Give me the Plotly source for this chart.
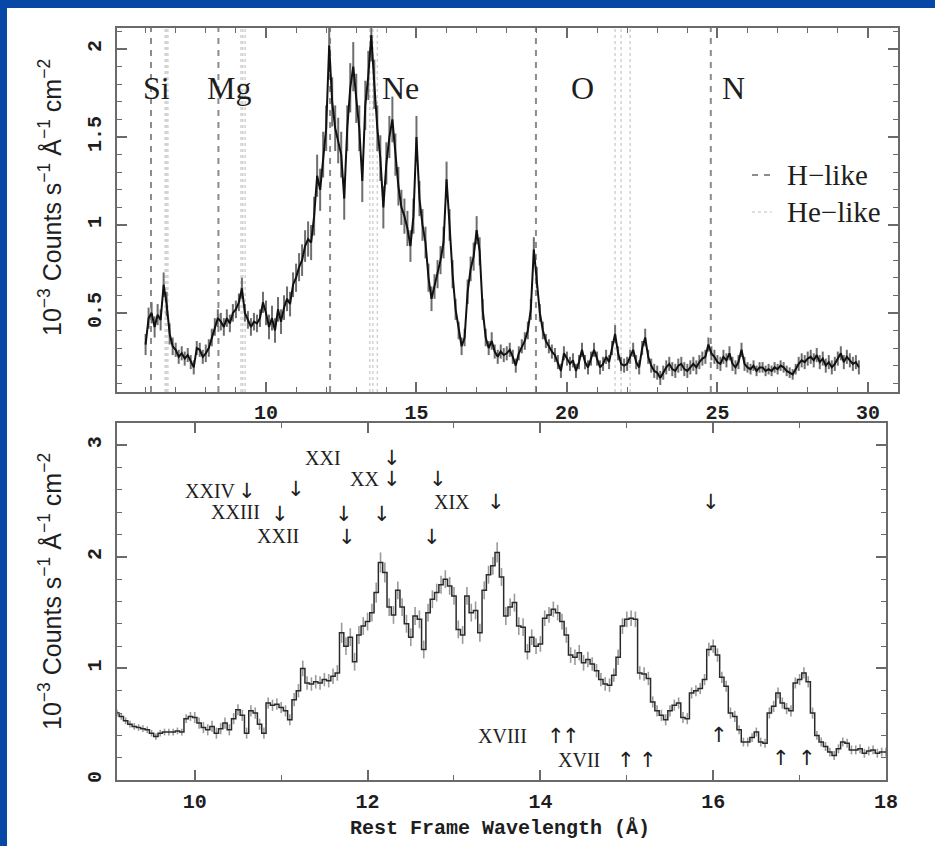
import numpy as np
import plotly.graph_objects as go

# ---------------- data: top panel (full band) ----------------
top_start, top_step = 6.0, 0.1
flux_top = [
    0.32, 0.47, 0.50, 0.42, 0.49, 0.46, 0.66, 0.55, 0.38, 0.31,   # 6.x
    0.29, 0.25, 0.27, 0.24, 0.26, 0.22, 0.19, 0.30, 0.29, 0.25,   # 7.x
    0.27, 0.30, 0.36, 0.42, 0.47, 0.45, 0.42, 0.47, 0.44, 0.50,   # 8.x
    0.52, 0.56, 0.64, 0.50, 0.46, 0.42, 0.45, 0.44, 0.47, 0.56,   # 9.x
    0.50, 0.42, 0.47, 0.40, 0.52, 0.45, 0.53, 0.58, 0.55, 0.66,   # 10.x
    0.70, 0.76, 0.80, 0.88, 0.92, 0.90, 1.05, 1.28, 1.20, 1.40,   # 11.x
    1.55, 2.02, 1.70, 1.55, 1.48, 1.40, 1.15, 1.55, 1.78, 1.90,   # 12.x
    1.72, 1.55, 1.25, 1.68, 1.85, 2.08, 1.80, 1.55, 1.38, 1.10,   # 13.x
    1.35, 1.50, 1.60, 1.40, 1.22, 1.10, 1.05, 0.98, 0.88, 1.05,   # 14.x
    1.50, 1.15, 1.00, 0.90, 0.70, 0.58, 0.65, 0.72, 0.80, 0.90,   # 15.x
    1.26, 1.00, 0.72, 0.52, 0.40, 0.31, 0.36, 0.62, 0.75, 0.82,   # 16.x
    0.97, 0.85, 0.52, 0.36, 0.30, 0.34, 0.28, 0.25, 0.28, 0.26,   # 17.x
    0.27, 0.29, 0.25, 0.20, 0.27, 0.31, 0.34, 0.40, 0.52, 0.86,   # 18.x
    0.70, 0.50, 0.40, 0.34, 0.31, 0.28, 0.26, 0.22, 0.17, 0.27,   # 19.x
    0.24, 0.21, 0.23, 0.17, 0.22, 0.29, 0.22, 0.19, 0.24, 0.29,   # 20.x
    0.24, 0.19, 0.21, 0.25, 0.22, 0.30, 0.38, 0.27, 0.21, 0.20,   # 21.x
    0.21, 0.25, 0.29, 0.22, 0.19, 0.30, 0.36, 0.25, 0.20, 0.17,   # 22.x
    0.16, 0.13, 0.16, 0.19, 0.21, 0.18, 0.17, 0.20, 0.21, 0.18,   # 23.x
    0.17, 0.19, 0.21, 0.19, 0.22, 0.24, 0.25, 0.32, 0.27, 0.25,   # 24.x
    0.22, 0.21, 0.25, 0.23, 0.27, 0.21, 0.19, 0.22, 0.29, 0.21,   # 25.x
    0.19, 0.18, 0.20, 0.17, 0.19, 0.19, 0.17, 0.18, 0.17, 0.19,   # 26.x
    0.18, 0.20, 0.19, 0.17, 0.16, 0.15, 0.18, 0.21, 0.23, 0.22,   # 27.x
    0.24, 0.25, 0.23, 0.26, 0.22, 0.24, 0.20, 0.22, 0.19, 0.21,   # 28.x
    0.24, 0.27, 0.22, 0.25, 0.23, 0.21, 0.22, 0.19,               # 29.x
]
err_top = [
    0.06, 0.06, 0.06, 0.06, 0.06, 0.06, 0.07, 0.07, 0.06, 0.05,
    0.04, 0.04, 0.04, 0.04, 0.04, 0.04, 0.04, 0.04, 0.04, 0.04,
    0.05, 0.05, 0.05, 0.05, 0.05, 0.05, 0.05, 0.05, 0.05, 0.05,
    0.05, 0.05, 0.06, 0.05, 0.05, 0.05, 0.05, 0.05, 0.05, 0.06,
    0.07, 0.07, 0.07, 0.07, 0.07, 0.07, 0.07, 0.07, 0.07, 0.07,
    0.08, 0.08, 0.09, 0.09, 0.10, 0.10, 0.11, 0.12, 0.12, 0.13,
    0.13, 0.15, 0.14, 0.13, 0.13, 0.13, 0.12, 0.13, 0.14, 0.14,
    0.14, 0.13, 0.12, 0.14, 0.14, 0.15, 0.14, 0.13, 0.13, 0.12,
    0.12, 0.12, 0.13, 0.12, 0.11, 0.10, 0.10, 0.10, 0.09, 0.10,
    0.12, 0.10, 0.09, 0.09, 0.08, 0.07, 0.07, 0.08, 0.08, 0.09,
    0.10, 0.09, 0.08, 0.06, 0.05, 0.05, 0.05, 0.07, 0.07, 0.08,
    0.08, 0.08, 0.06, 0.05, 0.04, 0.05, 0.04, 0.04, 0.04, 0.04,
    0.04, 0.04, 0.04, 0.04, 0.04, 0.04, 0.05, 0.05, 0.06, 0.07,
    0.06, 0.05, 0.05, 0.04, 0.04, 0.04, 0.04, 0.04, 0.04, 0.04,
    0.04, 0.04, 0.04, 0.04, 0.04, 0.04, 0.04, 0.04, 0.04, 0.04,
    0.04, 0.04, 0.04, 0.04, 0.04, 0.04, 0.05, 0.04, 0.04, 0.04,
    0.04, 0.04, 0.04, 0.04, 0.04, 0.04, 0.05, 0.04, 0.04, 0.04,
    0.04, 0.04, 0.04, 0.04, 0.04, 0.04, 0.04, 0.04, 0.04, 0.04,
    0.04, 0.04, 0.04, 0.04, 0.04, 0.04, 0.04, 0.04, 0.04, 0.04,
    0.04, 0.04, 0.04, 0.04, 0.04, 0.04, 0.04, 0.04, 0.04, 0.04,
    0.03, 0.03, 0.03, 0.03, 0.03, 0.03, 0.03, 0.03, 0.03, 0.03,
    0.03, 0.03, 0.03, 0.03, 0.03, 0.03, 0.03, 0.04, 0.04, 0.04,
    0.04, 0.04, 0.04, 0.04, 0.04, 0.04, 0.04, 0.04, 0.04, 0.04,
    0.04, 0.04, 0.04, 0.04, 0.04, 0.04, 0.04, 0.04,
]

# ---------------- data: bottom panel (zoom 9-18 A) ----------------
bot_start, bot_step = 9.10, 0.05
flux_bot = [
    0.60, 0.57, 0.53, 0.50, 0.48, 0.47, 0.46, 0.45, 0.42, 0.39,
    0.42, 0.43, 0.43, 0.43, 0.44, 0.43, 0.55, 0.57,                      # 9.10-9.95
    0.56, 0.51, 0.47, 0.45, 0.48, 0.42, 0.46, 0.51, 0.45, 0.55,
    0.63, 0.58, 0.42, 0.62, 0.60, 0.50, 0.42, 0.69, 0.67, 0.68,          # 10.x
    0.65, 0.62, 0.54, 0.72, 0.80, 1.00, 0.87, 0.86, 0.88, 0.87,
    0.90, 0.89, 0.93, 0.96, 1.32, 1.20, 1.28, 1.06, 1.30, 1.38,          # 11.x
    1.42, 1.50, 1.68, 1.95, 1.86, 1.55, 1.48, 1.70, 1.55, 1.40,
    1.28, 1.47, 1.44, 1.17, 1.50, 1.62, 1.68, 1.75, 1.80, 1.74,          # 12.x
    1.65, 1.35, 1.30, 1.65, 1.50, 1.52, 1.32, 1.70, 1.84, 1.92,
    2.04, 1.82, 1.47, 1.55, 1.59, 1.38, 1.37, 1.15, 1.28, 1.20,          # 13.x
    1.22, 1.45, 1.48, 1.53, 1.50, 1.42, 1.30, 1.12, 1.10, 1.14,
    1.05, 1.08, 1.04, 0.98, 0.90, 0.86, 0.85, 0.94, 1.10, 1.38,          # 14.x
    1.44, 1.45, 1.44, 0.96, 0.95, 0.91, 0.70, 0.62, 0.58, 0.54,
    0.62, 0.67, 0.69, 0.56, 0.55, 0.78, 0.80, 0.82, 0.90, 1.17,          # 15.x
    1.20, 1.12, 0.92, 0.84, 0.60, 0.57, 0.45, 0.34, 0.34, 0.38,
    0.43, 0.34, 0.33, 0.60, 0.66, 0.78, 0.69, 0.64, 0.62, 0.87,          # 16.x
    0.90, 0.96, 0.88, 0.60, 0.40, 0.34, 0.30, 0.25, 0.22, 0.28,
    0.34, 0.33, 0.27, 0.27, 0.28, 0.24, 0.26, 0.27, 0.24, 0.25,          # 17.x
    0.25,                                                                # 18.00
]
err_bot = [
    0.03, 0.03, 0.03, 0.03, 0.03, 0.03, 0.03, 0.03, 0.03, 0.03,
    0.03, 0.03, 0.03, 0.03, 0.03, 0.03, 0.04, 0.04,
    0.05, 0.05, 0.05, 0.05, 0.05, 0.05, 0.05, 0.05, 0.05, 0.05,
    0.05, 0.05, 0.05, 0.05, 0.05, 0.05, 0.05, 0.05, 0.05, 0.05,
    0.05, 0.05, 0.05, 0.06, 0.06, 0.07, 0.06, 0.06, 0.06, 0.06,
    0.06, 0.06, 0.07, 0.07, 0.09, 0.08, 0.08, 0.08, 0.08, 0.08,
    0.08, 0.08, 0.09, 0.09, 0.09, 0.08, 0.08, 0.08, 0.08, 0.08,
    0.08, 0.08, 0.08, 0.08, 0.08, 0.08, 0.08, 0.08, 0.08, 0.08,
    0.08, 0.08, 0.08, 0.08, 0.08, 0.08, 0.08, 0.08, 0.08, 0.08,
    0.09, 0.08, 0.08, 0.08, 0.08, 0.08, 0.08, 0.07, 0.07, 0.07,
    0.07, 0.07, 0.07, 0.07, 0.07, 0.07, 0.07, 0.07, 0.07, 0.07,
    0.07, 0.07, 0.06, 0.06, 0.06, 0.06, 0.06, 0.06, 0.07, 0.07,
    0.07, 0.07, 0.07, 0.06, 0.06, 0.06, 0.05, 0.05, 0.05, 0.05,
    0.05, 0.05, 0.05, 0.05, 0.05, 0.05, 0.05, 0.05, 0.05, 0.06,
    0.06, 0.06, 0.05, 0.05, 0.05, 0.05, 0.04, 0.04, 0.04, 0.04,
    0.04, 0.04, 0.04, 0.05, 0.05, 0.05, 0.05, 0.05, 0.05, 0.05,
    0.05, 0.05, 0.05, 0.05, 0.04, 0.04, 0.04, 0.04, 0.04, 0.04,
    0.04, 0.04, 0.04, 0.04, 0.04, 0.04, 0.04, 0.04, 0.04, 0.04,
    0.04,
]
assert len(err_top) == len(flux_top)
assert len(err_bot) == len(flux_bot)
wl_top = np.round(top_start + top_step * np.arange(len(flux_top)), 3)
wl_bot = np.round(bot_start + bot_step * np.arange(len(flux_bot)), 3)

# line identifications (top panel)
h_like_wl = [6.18, 8.42, 12.13, 18.97, 24.78]
he_like_wl = [6.65, 6.69, 6.74, 9.17, 9.23, 9.31, 13.45, 13.55, 13.70, 21.60, 21.80, 22.10]
element_names = ["Si", "Mg", "Ne", "O", "N"]
element_x = [6.37, 8.77, 14.47, 20.53, 25.53]
element_y = 1.78

# Fe ion labels (bottom panel)
ion_names = ["XXIV", "XXIII", "XXII", "XXI", "XX", "XIX", "XVIII", "XVII"]
ion_x = [10.18, 10.47, 10.96, 11.48, 11.97, 12.98, 13.56, 14.45]
ion_y = [2.59, 2.40, 2.19, 2.89, 2.70, 2.49, 0.39, 0.18]
down_x = [10.60, 11.17, 10.99, 11.73, 11.76, 12.17, 12.28, 12.28, 12.81, 12.75, 13.49, 15.98]
down_y = [2.59, 2.61, 2.38, 2.38, 2.18, 2.38, 2.89, 2.70, 2.70, 2.18, 2.49, 2.49]
up_x = [14.18, 14.36, 14.99, 15.24, 16.07, 16.79, 17.08]
up_y = [0.39, 0.39, 0.18, 0.18, 0.40, 0.20, 0.20]

# ---------------- figure ----------------
W, H = 935, 846
BLUE = "#0747a6"
AX = "#6a6a6a"
TXT = "#1e1e1e"

fig = go.Figure()
fig.add_trace(go.Scatter(
    x=wl_top, y=flux_top, xaxis="x", yaxis="y", mode="lines",
    line=dict(color="#111111", width=2.0),
    error_y=dict(type="data", array=err_top, color="#6e6e6e", thickness=2.0, width=0),
    hoverinfo="skip", showlegend=False))
fig.add_trace(go.Scatter(
    x=wl_bot, y=flux_bot, xaxis="x2", yaxis="y2", mode="lines",
    line=dict(color="#2a2a2a", width=1.5, shape="hvh"),
    error_y=dict(type="data", array=err_bot, color="#9a9a9a", thickness=1.6, width=0),
    hoverinfo="skip", showlegend=False))

tickfont = dict(family="Liberation Mono", size=20, color=TXT, weight="bold")
common = dict(showline=True, linecolor=AX, linewidth=2, mirror="allticks",
              ticks="inside", ticklen=10, tickwidth=1.5, tickcolor=AX,
              showgrid=False, zeroline=False, tickfont=tickfont, automargin=False)

fig.update_layout(
    template="none",
    width=W, height=H, margin=dict(l=0, r=0, t=0, b=0, pad=0), autosize=False,
    paper_bgcolor=BLUE, plot_bgcolor="white", showlegend=False,
    xaxis=dict(domain=[117 / W, 898 / W], anchor="y", range=[5.05, 31.0],
               tick0=0, dtick=5, ticklabelstandoff=1,
               minor=dict(ticks="inside", ticklen=5, tickwidth=1.2, tickcolor=AX, dtick=1),
               **common),
    yaxis=dict(domain=[1 - 392 / H, 1 - 28 / H], anchor="x", range=[0.05, 2.12],
               tickvals=[0.5, 1, 1.5, 2], ticktext=["0.5", "1", "1.5", "2"],
               tickangle=-90, ticklabelstandoff=6,
               minor=dict(ticks="inside", ticklen=5, tickwidth=1.2, tickcolor=AX, dtick=0.1, tick0=0),
               **common),
    xaxis2=dict(domain=[117 / W, 886 / W], anchor="y2", range=[9.1, 18.0],
                tick0=0, dtick=2, ticklabelstandoff=2,
                minor=dict(ticks="inside", ticklen=5, tickwidth=1.2, tickcolor=AX, dtick=1),
                **common),
    yaxis2=dict(domain=[1 - 780 / H, 1 - 423 / H], anchor="x2", range=[0, 3.2],
                tick0=0, dtick=1, tickangle=-90, ticklabelstandoff=6,
                minor=dict(ticks="inside", ticklen=5, tickwidth=1.2, tickcolor=AX, dtick=0.2, tick0=0),
                **common),
)

shapes = [dict(type="rect", xref="paper", yref="paper", x0=7 / W, x1=1.01, y0=-0.01, y1=1 - 8 / H,
               fillcolor="white", line=dict(width=0), layer="below")]
for w in h_like_wl:
    shapes.append(dict(type="line", xref="x", yref="y domain", x0=w, x1=w, y0=0, y1=1,
                       line=dict(color="#8c8c8c", width=2, dash="6px,6px"), layer="below"))
for w in he_like_wl:
    shapes.append(dict(type="line", xref="x", yref="y domain", x0=w, x1=w, y0=0, y1=1,
                       line=dict(color="#d2d2d2", width=1.5, dash="dot"), layer="below"))
# legend samples
shapes.append(dict(type="line", xref="x", yref="y", x0=26.15, x1=26.8, y0=1.284, y1=1.284,
                   line=dict(color="#8c8c8c", width=2, dash="6px,6px")))
shapes.append(dict(type="line", xref="x", yref="y", x0=26.15, x1=26.8, y0=1.074, y1=1.074,
                   line=dict(color="#d2d2d2", width=1.5, dash="dot")))
fig.update_layout(shapes=shapes)

ann = []
for name, x in zip(element_names, element_x):
    ann.append(dict(x=x, y=element_y, xref="x", yref="y", text=name, showarrow=False,
                    xanchor="center", yanchor="middle",
                    font=dict(family="Liberation Serif", size=32, color=TXT)))
ann.append(dict(x=27.25, y=1.284, xref="x", yref="y", text="H\u2212like", showarrow=False,
                xanchor="left", yanchor="middle",
                font=dict(family="Liberation Serif", size=29, color=TXT)))
ann.append(dict(x=27.25, y=1.074, xref="x", yref="y", text="He\u2212like", showarrow=False,
                xanchor="left", yanchor="middle",
                font=dict(family="Liberation Serif", size=29, color=TXT)))
for name, x, y in zip(ion_names, ion_x, ion_y):
    ann.append(dict(x=x, y=y, xref="x2", yref="y2", text=name, showarrow=False,
                    xanchor="center", yanchor="middle",
                    font=dict(family="Liberation Serif", size=20, color=TXT)))
for x, y in zip(down_x, down_y):
    ann.append(dict(x=x, y=y, xref="x2", yref="y2", text="\u2193", showarrow=False,
                    xanchor="center", yanchor="middle",
                    font=dict(family="DejaVu Sans", size=21, color=TXT)))
for x, y in zip(up_x, up_y):
    ann.append(dict(x=x, y=y, xref="x2", yref="y2", text="\u2191", showarrow=False,
                    xanchor="center", yanchor="middle",
                    font=dict(family="DejaVu Sans", size=21, color=TXT)))

ytitle = "10<sup>\u22123</sup> Counts s<sup>\u22121</sup> \u00c5<sup>\u22121</sup> cm<sup>\u22122</sup>"
for yc in (198, 592):
    ann.append(dict(x=50 / W, y=1 - yc / H, xref="paper", yref="paper", text=ytitle,
                    textangle=-90, showarrow=False, xanchor="center", yanchor="middle",
                    font=dict(family="Liberation Sans", size=25, color=TXT)))
ann.append(dict(x=500 / W, y=1 - 828 / H, xref="paper", yref="paper",
                text="Rest Frame Wavelength (\u00c5)", showarrow=False,
                xanchor="center", yanchor="middle",
                font=dict(family="Liberation Mono", size=20, color=TXT, weight="bold")))
fig.update_layout(annotations=ann)

fig.write_html("out.html")
